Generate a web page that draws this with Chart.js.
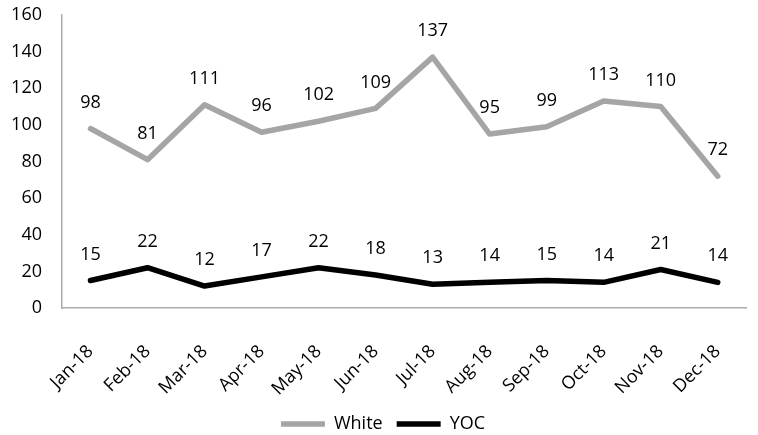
<!DOCTYPE html>
<html>
<head>
<meta charset="utf-8">
<script src="https://cdn.jsdelivr.net/npm/chart.js@4"></script>
<style>
  html, body { margin: 0; padding: 0; background: #fff; overflow: hidden; }
  #wrap { width: 766px; height: 435px; }
</style>
</head>
<body>
<div id="wrap"><canvas id="grafico"></canvas></div>
<script>
const meses = ['Jan-18', 'Feb-18', 'Mar-18', 'Apr-18', 'May-18', 'Jun-18',
  'Jul-18', 'Aug-18', 'Sep-18', 'Oct-18', 'Nov-18', 'Dec-18'];
const white = [98, 81, 111, 96, 102, 109, 137, 95, 99, 113, 110, 72];
const yoc = [15, 22, 12, 17, 22, 18, 13, 14, 15, 14, 21, 14];
const yTicks = [0, 20, 40, 60, 80, 100, 120, 140, 160];

const fuente = "'Open Sans', sans-serif";

// etiquetas encima de cada punto
const etiquetas = {
  id: 'etiquetas',
  afterDatasetsDraw(chart) {
    const ctx = chart.ctx;
    ctx.save();
    ctx.font = '18px ' + fuente;
    ctx.fillStyle = '#000';
    ctx.textAlign = 'center';
    ctx.textBaseline = 'middle';
    chart.data.datasets.forEach((ds, i) => {
      chart.getDatasetMeta(i).data.forEach((pt, j) => {
        ctx.fillText(ds.data[j], pt.x, pt.y - 26);
      });
    });
    ctx.restore();
  }
};

const ctx = document.getElementById('grafico').getContext('2d');

new Chart(ctx, {
  type: 'line',
  plugins: [etiquetas],
  data: {
    labels: meses,
    datasets: [
      {
        label: 'White',
        data: white,
        borderColor: '#a5a5a5',
        backgroundColor: '#a5a5a5',
        borderWidth: 5.5,
        borderJoinStyle: 'round',
        borderCapStyle: 'round',
        pointRadius: 0,
        tension: 0
      },
      {
        label: 'YOC',
        data: yoc,
        borderColor: '#000000',
        backgroundColor: '#000000',
        borderWidth: 5.5,
        borderJoinStyle: 'round',
        borderCapStyle: 'round',
        pointRadius: 0,
        tension: 0
      }
    ]
  },
  options: {
    animation: false,
    responsive: true,
    maintainAspectRatio: false,
    layout: { padding: { top: 0, left: 0, right: 0, bottom: -8 } },
    plugins: {
      legend: {
        display: true,
        position: 'bottom',
        labels: {
          usePointStyle: true,
          pointStyle: 'line',
          pointStyleWidth: 44,
          color: '#000',
          font: { family: fuente, size: 18 },
          padding: 14
        }
      },
      tooltip: { enabled: false }
    },
    scales: {
      x: {
        offset: true,
        grid: { display: false, drawTicks: false },
        border: { display: true, color: '#ababab', width: 1.5 },
        afterFit: (axis) => { axis.height = 93; },
        ticks: {
          color: '#000',
          font: { family: fuente, size: 18 },
          maxRotation: 45,
          minRotation: 45,
          padding: 33
        }
      },
      y: {
        min: 0,
        max: 160,
        afterBuildTicks: (axis) => { axis.ticks = yTicks.map(v => ({ value: v })); },
        afterFit: (axis) => {
          axis.width = 62;
          axis.paddingTop = 15;
          axis.paddingBottom = 0;
        },
        grid: { display: false, drawTicks: false },
        border: { display: true, color: '#ababab', width: 1.5 },
        ticks: {
          color: '#000',
          font: { family: fuente, size: 18 },
          padding: 20
        }
      }
    }
  }
});
</script>
</body>
</html>
